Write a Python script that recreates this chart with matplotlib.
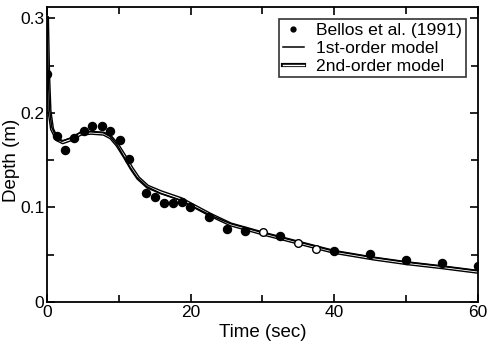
import matplotlib
matplotlib.use("Agg")
import matplotlib.pyplot as plt
import matplotlib.patheffects as pe
from matplotlib.ticker import MultipleLocator

plt.rcParams['font.family'] = ['Liberation Sans', 'DejaVu Sans']

# measured points (Bellos et al. 1991)
obs_t = [0.0, 1.35, 2.5, 3.8, 5.1, 6.3, 7.6, 8.8, 10.1, 11.4, 13.8, 15.1, 16.3, 17.5, 18.8,
         19.9, 22.5, 25.1, 27.5, 32.5, 40.0, 45.0, 50.0, 55.0, 60.0]
obs_d = [0.241, 0.176, 0.161, 0.173, 0.181, 0.186, 0.186, 0.181, 0.171, 0.151, 0.115, 0.111,
         0.105, 0.105, 0.106, 0.100, 0.090, 0.077, 0.075, 0.070, 0.054, 0.051, 0.044, 0.041, 0.038]
# points that sit on the model lines (look hollow in the scan)
obs_open_t = [30.1, 35.0, 37.5]
obs_open_d = [0.0736, 0.0626, 0.0563]

# 1st-order model
m1_t = [0.0, 0.15, 0.35, 0.65, 1.35, 2.05, 3.2, 4.6, 6.0, 7.85, 8.8, 9.7, 10.6, 11.6, 12.5,
        13.9, 15.8, 18.5, 22.7, 25.5, 30.2, 34.8, 39.9, 45.5, 50.2, 54.8, 60.0]
m1_d = [0.300, 0.245, 0.205, 0.185, 0.173, 0.170, 0.173, 0.179, 0.180, 0.179, 0.175, 0.167,
        0.155, 0.142, 0.132, 0.122, 0.115, 0.108, 0.092, 0.083, 0.073, 0.064, 0.054, 0.047,
        0.042, 0.038, 0.033]

# 2nd-order model
m2_t = [0.0, 0.15, 0.35, 0.7, 1.4, 2.2, 3.3, 4.7, 6.1, 7.9, 8.9, 9.8, 10.8, 11.8, 12.7,
        14.0, 15.9, 18.6, 22.8, 25.6, 30.3, 34.9, 40.0, 45.5, 50.2, 54.8, 60.0]
m2_d = [0.300, 0.242, 0.202, 0.183, 0.172, 0.169, 0.172, 0.178, 0.179, 0.178, 0.174, 0.166,
        0.154, 0.141, 0.131, 0.122, 0.116, 0.109, 0.092, 0.082, 0.072, 0.063, 0.053, 0.046,
        0.041, 0.037, 0.032]

fig = plt.figure(figsize=(4.88, 3.46), dpi=100)
ax = fig.add_axes([0.0963, 0.127, 0.8832, 0.853])

ax.plot(obs_t, obs_d, 'o', color='black', markersize=5.8, label='Bellos et al. (1991)', zorder=4)
ax.plot(obs_open_t, obs_open_d, 'o', mfc='white', mec='black', mew=1.0, markersize=5.5, zorder=4)
ax.plot(m1_t, m1_d, '-', color='black', lw=1.1, label='1st-order model', zorder=3)
ax.plot(m2_t, m2_d, '-', color='white', lw=1.0, label='2nd-order model', zorder=2,
        path_effects=[pe.Stroke(linewidth=3.0, foreground='black'), pe.Normal()])

ax.set_xlim(0, 60)
ax.set_ylim(0, 0.312)
ax.xaxis.set_minor_locator(MultipleLocator(10))
ax.yaxis.set_minor_locator(MultipleLocator(0.05))
ax.set_xticks([0, 20, 40, 60])
ax.set_xticklabels(['0', '20', '40', '60'])
ax.set_yticks([0, 0.1, 0.2, 0.3])
ax.set_yticklabels(['0', '0.1', '0.2', '0.3'])
ax.tick_params(which='both', direction='in', top=True, right=True, labelsize=12.5, width=1.2)
ax.tick_params(which='major', length=6, pad=2)
ax.tick_params(which='minor', length=5)
for s in ax.spines.values():
    s.set_linewidth(1.3)

ax.set_xlabel('Time (sec)', fontsize=13.5)
ax.set_ylabel('Depth (m)', fontsize=13.5)
ax.xaxis.set_label_coords(0.5, -0.075)
ax.yaxis.set_label_coords(-0.063, 0.48)

leg = ax.legend(loc='upper right', fontsize=12.6, frameon=True, fancybox=False,
                edgecolor='black', handlelength=1.2, handletextpad=0.7, borderpad=0.2,
                labelspacing=0.15, borderaxespad=0.7, markerscale=0.6)
leg.get_frame().set_linewidth(1.2)

fig.savefig('out.png', dpi=100)
